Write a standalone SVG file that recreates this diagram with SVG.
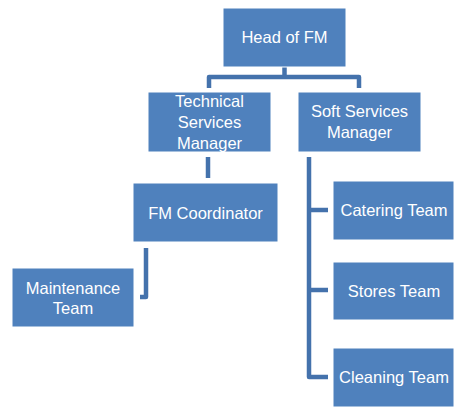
<svg xmlns="http://www.w3.org/2000/svg" width="454" height="408" viewBox="0 0 454 408">
<style>
.box{fill:#4F81BD;stroke:#ffffff;stroke-width:1}
.lbl{font-family:"Liberation Sans",Arial,sans-serif;font-size:16.5px;fill:#ffffff;text-anchor:middle}
.con{fill:none;stroke:#4472AC;stroke-width:4.5;stroke-linejoin:round}
</style>
<rect width="454" height="408" fill="#ffffff"/>
<g id="connectors">
<path class="con" d="M284.5,67 V77"/>
<path class="con" d="M209,88 V77 H359 V88"/>
<path class="con" d="M208,157 V178"/>
<path class="con" d="M146,248 V297 H140"/>
<path class="con" d="M309,157 V377 H328"/>
<path class="con" d="M309,210 H328"/>
<path class="con" d="M309,290 H328"/>
</g>
<g id="head">
<rect class="box" x="223" y="8" width="123" height="59"/>
<text class="lbl" x="284.5" y="43">Head of FM</text>
</g>
<g id="tsm">
<rect class="box" x="148" y="92" width="123" height="60"/>
<text class="lbl" x="209.5" y="107">Technical</text>
<text class="lbl" x="209.5" y="128">Services</text>
<text class="lbl" x="209.5" y="148.5">Manager</text>
</g>
<g id="ssm">
<rect class="box" x="298" y="92" width="123" height="60"/>
<text class="lbl" x="359.5" y="117">Soft Services</text>
<text class="lbl" x="359.5" y="137.5">Manager</text>
</g>
<g id="fmc">
<rect class="box" x="133" y="183" width="145" height="59"/>
<text class="lbl" x="205.5" y="218.5">FM Coordinator</text>
</g>
<g id="maint">
<rect class="box" x="12" y="268" width="122" height="59"/>
<text class="lbl" x="73" y="293.5">Maintenance</text>
<text class="lbl" x="73" y="314">Team</text>
</g>
<g id="catering">
<rect class="box" x="333" y="181" width="121" height="59"/>
<text class="lbl" x="394" y="216">Catering Team</text>
</g>
<g id="stores">
<rect class="box" x="333" y="262" width="121" height="58"/>
<text class="lbl" x="394" y="297">Stores Team</text>
</g>
<g id="cleaning">
<rect class="box" x="333" y="348" width="121" height="59"/>
<text class="lbl" x="394" y="383">Cleaning Team</text>
</g>
</svg>
